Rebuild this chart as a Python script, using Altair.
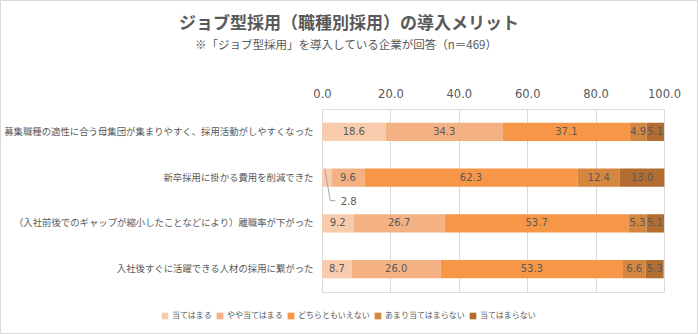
import altair as alt
import pandas as pd

categories = [
    "募集職種の適性に合う母集団が集まりやすく、採用活動がしやすくなった",
    "新卒採用に掛かる費用を削減できた",
    "（入社前後でのギャップが縮小したことなどにより）離職率が下がった",
    "入社後すぐに活躍できる人材の採用に繋がった",
]
series = ["当てはまる", "やや当てはまる", "どちらともいえない", "あまり当てはまらない", "当てはまらない"]
values = [
    [18.6, 34.3, 37.1, 4.9, 5.1],
    [2.8, 9.6, 62.3, 12.4, 13.0],
    [9.2, 26.7, 53.7, 5.3, 5.1],
    [8.7, 26.0, 53.3, 6.6, 5.3],
]
colors = ["#F8CBAD", "#F4B183", "#F79646", "#D6873F", "#B46D30"]
ticks = [0, 20, 40, 60, 80, 100]
title = "ジョブ型採用（職種別採用）の導入メリット"
subtitle = "※「ジョブ型採用」を導入している企業が回答（n＝469）"
leader_items = [(1, 0)]  # (category index, series index) label placed outside

rows = []
for ci, cat in enumerate(categories):
    start = 0.0
    for si, s in enumerate(series):
        v = values[ci][si]
        rows.append({"cat": cat, "series": s, "order": si, "value": v,
                     "start": start, "end": start + v, "mid": start + v / 2,
                     "label": f"{v:.1f}",
                     "inside": (ci, si) not in leader_items})
        start += v
df = pd.DataFrame(rows)

JP = "Noto Sans CJK JP"
GRAY = "#595959"
W, H = 342, 183
PL, PT = 322, 109

xs = alt.Scale(domain=[0, 100], nice=False)
ys = alt.Scale(domain=categories, paddingInner=0.6, paddingOuter=0.3)

base = alt.Chart(df)

bars = base.mark_bar().encode(
    x=alt.X("start:Q", scale=xs, axis=alt.Axis(
        orient="top", values=ticks, format=".1f", title=None, domain=False, ticks=False,
        grid=True, gridColor="#D9D9D9", labelColor=GRAY, labelFont="DejaVu Sans",
        labelFontSize=11.5, labelPadding=10, labelFlush=False)),
    x2="end:Q",
    y=alt.Y("cat:N", scale=ys, sort=categories, axis=alt.Axis(
        title=None, domain=False, ticks=False, labelColor=GRAY, labelFont=JP,
        labelFontSize=9.4, labelPadding=9, labelLimit=400)),
    color=alt.Color("series:N", scale=alt.Scale(domain=series, range=colors),
                    legend=alt.Legend(title=None, orient="none", direction="horizontal",
                                      legendX=161 - PL, legendY=312 - PT,
                                      symbolType="square", symbolSize=45,
                                      symbolStrokeWidth=0, labelFont=JP,
                                      labelFontSize=8, labelColor=GRAY,
                                      columnPadding=4, labelOffset=3)),
    order="order:Q",
)

labels = base.transform_filter("datum.inside").mark_text(
    font="DejaVu Sans", fontSize=10, color=GRAY, baseline="middle"
).encode(
    x=alt.X("mid:Q", scale=xs), y=alt.Y("cat:N", scale=ys, sort=categories), text="label:N"
)

ld = base.transform_filter("!datum.inside")
leader1 = ld.mark_rule(color="#A6A6A6", strokeWidth=1, xOffset=-2, x2Offset=3.5,
                       yOffset=-9, y2Offset=23).encode(
    x=alt.X("mid:Q", scale=xs), x2="mid:Q",
    y=alt.Y("cat:N", scale=ys, sort=categories), y2="cat:N")
leader2 = ld.mark_rule(color="#A6A6A6", strokeWidth=1, xOffset=3.5, x2Offset=8.5,
                       yOffset=23, y2Offset=23).encode(
    x=alt.X("mid:Q", scale=xs), x2="mid:Q",
    y=alt.Y("cat:N", scale=ys, sort=categories), y2="cat:N")
leader_text = ld.mark_text(font="DejaVu Sans", fontSize=10, color=GRAY,
                           baseline="middle", align="left", dx=14, dy=24).encode(
    x=alt.X("mid:Q", scale=xs), y=alt.Y("cat:N", scale=ys, sort=categories), text="label:N")

title_df = pd.DataFrame({"t": [title]})
sub_df = pd.DataFrame({"t": [subtitle]})
t1 = alt.Chart(title_df).mark_text(font=JP, fontSize=17, fontWeight="bold", color=GRAY,
                                   align="center", baseline="middle").encode(
    x=alt.value(349 - PL), y=alt.value(24 - PT), text="t:N")
t2 = alt.Chart(sub_df).mark_text(font=JP, fontSize=11.5, color=GRAY,
                                 align="center", baseline="middle").encode(
    x=alt.value(346 - PL), y=alt.value(46 - PT), text="t:N")
frame = alt.Chart(title_df).mark_rect(fill=None, stroke="#D9D9D9", strokeWidth=1).encode(
    x=alt.value(-PL + 0.5), x2=alt.value(698 - PL - 0.5),
    y=alt.value(-PT + 0.5), y2=alt.value(334 - PT - 0.5))

chart = alt.layer(frame, bars, labels, leader1, leader2, leader_text, t1, t2).properties(
    width=W, height=H,
    autosize=alt.AutoSizeParams(type="none"),
    padding={"left": PL, "top": PT, "right": 698 - PL - W, "bottom": 334 - PT - H},
).configure_view(stroke=None).configure(background="white")

chart.save("out.html", embed_options={"renderer": "svg", "actions": False})
